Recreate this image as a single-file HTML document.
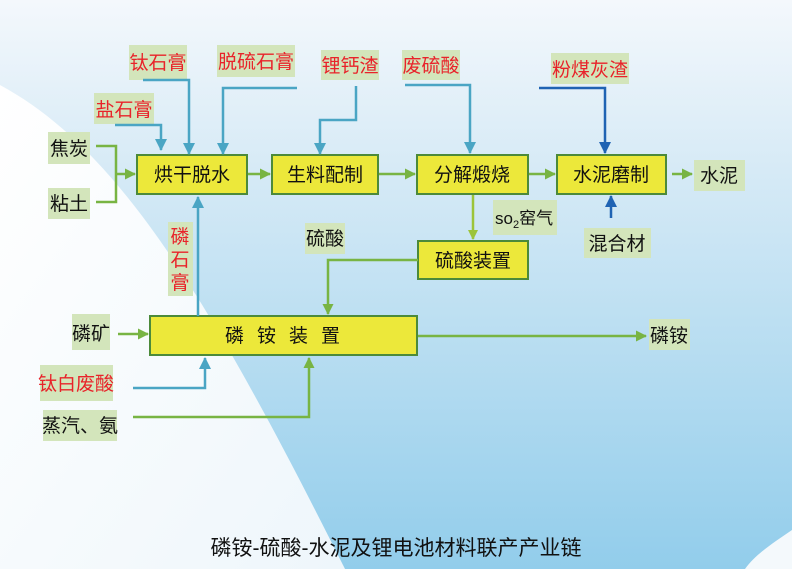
<!DOCTYPE html>
<html><head><meta charset="utf-8"><style>
html,body{margin:0;padding:0;}
body{width:792px;height:569px;overflow:hidden;}
svg text{font-family:"Liberation Sans","Noto Sans CJK SC",sans-serif;}
</style></head><body>
<svg width="792" height="569" viewBox="0 0 792 569" xmlns="http://www.w3.org/2000/svg">
<defs>
<linearGradient id="bg" x1="0" y1="0" x2="0" y2="1">
<stop offset="0" stop-color="#f4f8fc"/>
<stop offset="0.3" stop-color="#d6eaf6"/>
<stop offset="1" stop-color="#92cdeb"/>
</linearGradient>
<linearGradient id="wh" x1="0" y1="0" x2="1" y2="1">
<stop offset="0" stop-color="#ffffff"/>
<stop offset="1" stop-color="#eef6fb"/>
</linearGradient>
<marker id="ag" markerWidth="11" markerHeight="11" refX="10" refY="5.5" orient="auto" markerUnits="userSpaceOnUse"><path d="M0,0 L11,5.5 L0,11 z" fill="#78b443"/></marker>
<marker id="ab" markerWidth="12" markerHeight="12" refX="11" refY="6" orient="auto" markerUnits="userSpaceOnUse"><path d="M0,0 L12,6 L0,12 z" fill="#4aa5c4"/></marker>
<marker id="ad" markerWidth="12" markerHeight="12" refX="11" refY="6" orient="auto" markerUnits="userSpaceOnUse"><path d="M0,0 L12,6 L0,12 z" fill="#1f63b3"/></marker>
<marker id="ay" markerWidth="10" markerHeight="10" refX="9" refY="5" orient="auto" markerUnits="userSpaceOnUse"><path d="M0,0 L10,5 L0,10 z" fill="#9cc43a"/></marker>
</defs>
<rect width="792" height="569" fill="url(#bg)"/>
<path d="M0,85 C120,150 210,300 345,569 L0,569 Z" fill="url(#wh)"/>
<path d="M792,530 C770,545 755,555 745,569 L792,569 Z" fill="#f4f9fc"/>

<g fill="#d3e5bb">
<rect x="129" y="45" width="58" height="35"/>
<rect x="217" y="45" width="78" height="32"/>
<rect x="321" y="50" width="58" height="30"/>
<rect x="402" y="50" width="58" height="30"/>
<rect x="551" y="53" width="78" height="31"/>
<rect x="94" y="93" width="60" height="31"/>
<rect x="48" y="132" width="42" height="32"/>
<rect x="48" y="188" width="42" height="31"/>
<rect x="168" y="222" width="25" height="74"/>
<rect x="305" y="223" width="40" height="31"/>
<rect x="493" y="200" width="64" height="35"/>
<rect x="584" y="228" width="67" height="30"/>
<rect x="694" y="160" width="51" height="31"/>
<rect x="72" y="314" width="38" height="36"/>
<rect x="40" y="365" width="73" height="36"/>
<rect x="43" y="410" width="74" height="31"/>
<rect x="649" y="319" width="41" height="31"/>
</g>

<g fill="#ece83a" stroke="#4c8a3a" stroke-width="2">
<rect x="137" y="155" width="110" height="39"/>
<rect x="272" y="155" width="106" height="39"/>
<rect x="417" y="155" width="111" height="39"/>
<rect x="557" y="155" width="109" height="39"/>
<rect x="418" y="241" width="110" height="38"/>
<rect x="150" y="316" width="267" height="39"/>
</g>

<g fill="none" stroke-width="2.5">
<g stroke="#4aa5c4">
<path d="M115,125 H161 V150" marker-end="url(#ab)"/>
<path d="M143,80 H189 V154" marker-end="url(#ab)"/>
<path d="M297,88 H223 V154" marker-end="url(#ab)"/>
<path d="M356,86 V120 H320 V154" marker-end="url(#ab)"/>
<path d="M405,85 H470 V153" marker-end="url(#ab)"/>
<path d="M198,316 V197" marker-end="url(#ab)"/>
<path d="M133,388 H205 V358" marker-end="url(#ab)"/>
</g>
<g stroke="#1f63b3">
<path d="M539,88 H605 V153" marker-end="url(#ad)"/>
<path d="M611,218 V196" marker-end="url(#ad)"/>
</g>
<g stroke="#78b443">
<path d="M96,146 H116 V202 H96"/>
<path d="M116,174 H135" marker-end="url(#ag)"/>
<path d="M248,174 H270" marker-end="url(#ag)"/>
<path d="M379,174 H415" marker-end="url(#ag)"/>
<path d="M529,174 H555" marker-end="url(#ag)"/>
<path d="M672,174 H692" marker-end="url(#ag)"/>
<path d="M418,260 H328 V314" marker-end="url(#ag)"/>
<path d="M118,334 H148" marker-end="url(#ag)"/>
<path d="M418,336 H646" marker-end="url(#ag)"/>
<path d="M133,417 H309 V358" marker-end="url(#ag)"/>
</g>
<path stroke="#9cc43a" d="M473,195 V239" marker-end="url(#ay)"/>
</g>

<g font-size="19" fill="#e8232a" text-anchor="middle">
<text x="158" y="69">钛石膏</text>
<text x="256" y="68">脱硫石膏</text>
<text x="350" y="72">锂钙渣</text>
<text x="431" y="72">废硫酸</text>
<text x="590" y="76">粉煤灰渣</text>
<text x="124" y="116">盐石膏</text>
<text x="180" y="243">磷</text>
<text x="180" y="266">石</text>
<text x="180" y="289">膏</text>
<text x="76" y="390">钛白废酸</text>
</g>
<g font-size="19" fill="#111" text-anchor="middle">
<text x="69" y="155">焦炭</text>
<text x="69" y="210">粘土</text>
<text x="325" y="245">硫酸</text>
<text x="617" y="250">混合材</text>
<text x="719" y="182">水泥</text>
<text x="91" y="340">磷矿</text>
<text x="80" y="432">蒸汽、氨</text>
<text x="669" y="342">磷铵</text>
<text x="192" y="181">烘干脱水</text>
<text x="325" y="181">生料配制</text>
<text x="472" y="181">分解煅烧</text>
<text x="473" y="267">硫酸装置</text>
<text x="611" y="181">水泥磨制</text>
<text x="289" y="342" letter-spacing="13">磷铵装置</text>
</g>
<text x="495" y="224" font-size="17" fill="#111" font-family="Liberation Serif,serif">so<tspan font-size="11" dy="4">2</tspan><tspan dy="-4" font-family="Liberation Sans,Noto Sans CJK SC,sans-serif">窑气</tspan></text>
<text x="396" y="555" font-size="21" fill="#111" text-anchor="middle">磷铵-硫酸-水泥及锂电池材料联产产业链</text>
</svg>
</body></html>
